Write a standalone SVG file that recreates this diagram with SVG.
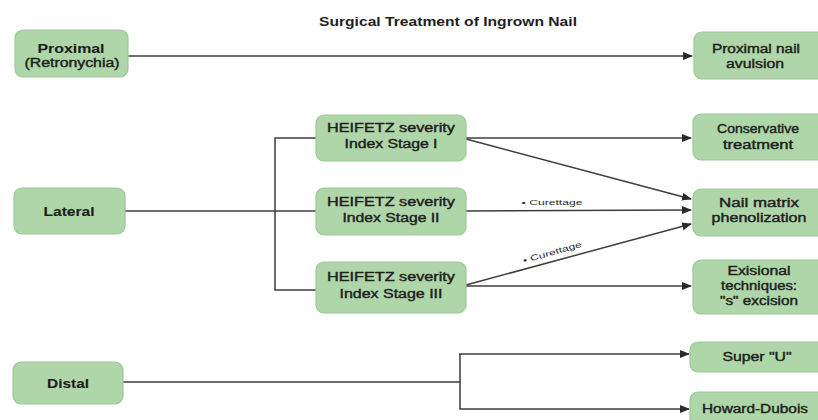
<svg xmlns="http://www.w3.org/2000/svg" width="818" height="420" viewBox="0 0 818 420">
<defs>
<marker id="ah" markerWidth="10" markerHeight="8" refX="9" refY="4" orient="auto" markerUnits="userSpaceOnUse">
<path d="M0,0 L10,4 L0,8 Z" fill="#2a2a2a"/>
</marker>
</defs>
<style>
.box{fill:#aed6a9;stroke:#9cc898;stroke-width:1.2}
.t{font-family:"Liberation Sans",Arial,sans-serif;font-size:12px;fill:#1e1e1e;text-anchor:middle;stroke:#1e1e1e;stroke-width:0.4}
.b{font-weight:bold;stroke-width:0.1}
.title{font-family:"Liberation Sans",Arial,sans-serif;font-size:13px;font-weight:bold;fill:#1e1e1e;text-anchor:middle}
.lbl{font-family:"Liberation Sans",Arial,sans-serif;font-size:8px;fill:#2a2a2a;text-anchor:middle}
.c{fill:none;stroke:#3d3d3d;stroke-width:1.5}
.a{marker-end:url(#ah)}
</style>
<rect width="818" height="420" fill="#ffffff"/>
<text class="title" x="448" y="26" textLength="258" lengthAdjust="spacingAndGlyphs">Surgical Treatment of Ingrown Nail</text>

<g id="connectors">
<line class="c a" x1="128" y1="56" x2="692" y2="56"/>
<line class="c" x1="125" y1="211" x2="316" y2="211"/>
<path class="c" d="M316,138 H275 V290 H316"/>
<line class="c a" x1="466" y1="138" x2="691" y2="138"/>
<line class="c a" x1="466" y1="139" x2="691" y2="199"/>
<line class="c a" x1="466" y1="211" x2="691" y2="210"/>
<line class="c a" x1="466" y1="285" x2="691" y2="224"/>
<line class="c a" x1="466" y1="286" x2="691" y2="286"/>
<path class="c" d="M123,382 H460 V354"/>
<line class="c a" x1="459" y1="354" x2="689" y2="354"/>
<path class="c a" d="M460,382 V409 H689"/>
<text class="lbl" x="552" y="205" textLength="61" lengthAdjust="spacingAndGlyphs">• Curettage</text>
<text class="lbl" x="0" y="0" transform="translate(553,255) rotate(-16)" textLength="61" lengthAdjust="spacingAndGlyphs">• Curettage</text>
</g>

<g id="proximal">
<rect class="box" x="15" y="30" width="113" height="47" rx="8"/>
<text class="t b" x="71" y="53" textLength="67" lengthAdjust="spacingAndGlyphs">Proximal</text>
<text class="t" x="72" y="67" textLength="95" lengthAdjust="spacingAndGlyphs">(Retronychia)</text>
</g>
<g id="proximal-nail-avulsion">
<rect class="box" x="694" y="32" width="132" height="47" rx="8"/>
<text class="t" x="756" y="53" textLength="88" lengthAdjust="spacingAndGlyphs">Proximal nail</text>
<text class="t" x="755" y="68" textLength="58" lengthAdjust="spacingAndGlyphs">avulsion</text>
</g>

<g id="lateral">
<rect class="box" x="14" y="188" width="111" height="46" rx="8"/>
<text class="t b" x="69" y="216" textLength="51" lengthAdjust="spacingAndGlyphs">Lateral</text>
</g>

<g id="stage1">
<rect class="box" x="316" y="115" width="150" height="46" rx="8"/>
<text class="t" x="391" y="132" textLength="128" lengthAdjust="spacingAndGlyphs">HEIFETZ severity</text>
<text class="t" x="391" y="148" textLength="93" lengthAdjust="spacingAndGlyphs">Index Stage I</text>
</g>
<g id="stage2">
<rect class="box" x="316" y="188" width="150" height="47" rx="8"/>
<text class="t" x="391" y="206" textLength="128" lengthAdjust="spacingAndGlyphs">HEIFETZ severity</text>
<text class="t" x="391" y="222" textLength="97" lengthAdjust="spacingAndGlyphs">Index Stage II</text>
</g>
<g id="stage3">
<rect class="box" x="316" y="262" width="150" height="51" rx="8"/>
<text class="t" x="391" y="281" textLength="128" lengthAdjust="spacingAndGlyphs">HEIFETZ severity</text>
<text class="t" x="391" y="298" textLength="103" lengthAdjust="spacingAndGlyphs">Index Stage III</text>
</g>

<g id="conservative">
<rect class="box" x="693" y="114" width="133" height="46" rx="8"/>
<text class="t" x="758" y="133" textLength="82" lengthAdjust="spacingAndGlyphs">Conservative</text>
<text class="t" x="758" y="149" textLength="70" lengthAdjust="spacingAndGlyphs">treatment</text>
</g>
<g id="phenolization">
<rect class="box" x="693" y="189" width="133" height="47" rx="8"/>
<text class="t" x="759" y="207" textLength="80" lengthAdjust="spacingAndGlyphs">Nail matrix</text>
<text class="t" x="759" y="222" textLength="95" lengthAdjust="spacingAndGlyphs">phenolization</text>
</g>
<g id="exisional">
<rect class="box" x="693" y="260" width="133" height="54" rx="8"/>
<text class="t" x="759" y="275" textLength="63" lengthAdjust="spacingAndGlyphs">Exisional</text>
<text class="t" x="759" y="290" textLength="76" lengthAdjust="spacingAndGlyphs">techniques:</text>
<text class="t" x="759" y="305" textLength="78" lengthAdjust="spacingAndGlyphs">"s" excision</text>
</g>

<g id="distal">
<rect class="box" x="13" y="362" width="110" height="42" rx="8"/>
<text class="t b" x="68" y="388" textLength="42" lengthAdjust="spacingAndGlyphs">Distal</text>
</g>
<g id="super-u">
<rect class="box" x="690" y="342" width="136" height="30" rx="8"/>
<text class="t" x="757" y="361" textLength="69" lengthAdjust="spacingAndGlyphs">Super "U"</text>
</g>
<g id="howard-dubois">
<rect class="box" x="690" y="392" width="136" height="40" rx="8"/>
<text class="t" x="755" y="413" textLength="106" lengthAdjust="spacingAndGlyphs">Howard-Dubois</text>
</g>
</svg>
